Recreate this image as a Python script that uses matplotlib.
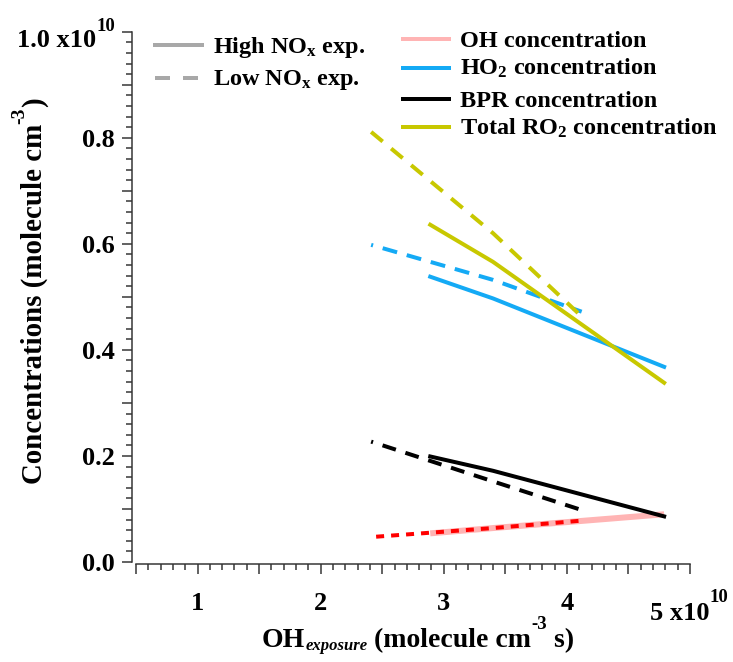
import numpy as np
import matplotlib
matplotlib.use('Agg')
import matplotlib.pyplot as plt
from matplotlib.lines import Line2D
from matplotlib.ticker import FixedLocator, FixedFormatter, MultipleLocator

plt.rcParams['font.family'] = 'Liberation Serif'
plt.rcParams['font.weight'] = 'bold'
plt.rcParams['mathtext.fontset'] = 'custom'
plt.rcParams['mathtext.rm'] = 'Liberation Serif:bold'
plt.rcParams['mathtext.it'] = 'Liberation Serif:italic:bold'
plt.rcParams['mathtext.bf'] = 'Liberation Serif:bold'
plt.rcParams['mathtext.default'] = 'regular'
plt.rcParams['lines.scale_dashes'] = False

# OH exposure (x1e10 molecule cm-3 s)
high_x = [2.89, 3.40, 4.79]
low_x = [2.41, 3.40, 4.12]

# concentrations (x1e10 molecule cm-3)
oh_high = [0.054, 0.064, 0.090]
ho2_high = [0.538, 0.497, 0.368]
bpr_high = [0.199, 0.172, 0.086]
ro2_high = [0.636, 0.566, 0.338]

oh_low = [0.047, 0.064, 0.078]
ho2_low = [0.598, 0.532, 0.472]
bpr_low = [0.227, 0.152, 0.098]
ro2_low = [0.811, 0.620, 0.463]

c_oh = '#ffb4b4'
c_oh_low = '#ff0000'
c_ho2 = '#14aaf5'
c_bpr = '#000000'
c_ro2 = '#c8c800'
c_grey = '#a8a8a8'

W, H = 733, 662
fig = plt.figure(figsize=(W / 100, H / 100), dpi=100)
ax = fig.add_axes([136 / W, 1 - 562 / H, (690 - 136) / W, (562 - 31.7) / H])
renderer = fig.canvas.get_renderer()

px = 0.72  # points per pixel
ax.plot(high_x, oh_high, color=c_oh, lw=6 * px, solid_capstyle='butt')
ax.plot(low_x, oh_low, color=c_oh_low, lw=4 * px, ls=(10 * px, (8 * px, 7 * px)))
ax.plot(high_x, bpr_high, color=c_bpr, lw=4 * px)
ax.plot(low_x, bpr_low, color=c_bpr, lw=4 * px, ls=(12 * px, (14 * px, 10 * px)))
ax.plot(high_x, ho2_high, color=c_ho2, lw=4 * px)
ax.plot(low_x, ho2_low, color=c_ho2, lw=4 * px, ls=(13 * px, (15 * px, 10 * px)))
ax.plot(high_x, ro2_high, color=c_ro2, lw=4 * px)
ax.plot(low_x, ro2_low, color=c_ro2, lw=4 * px, dashes=(15 * px, 11 * px))

ax.set_xlim(0.5, 5.0)
ax.set_ylim(0, 1.0)

for s in ['top', 'right']:
    ax.spines[s].set_visible(False)
ax.spines['left'].set_position(('outward', 4.3 * px))
ax.spines['bottom'].set_position(('outward', 2 * px))
for s in ['left', 'bottom']:
    ax.spines[s].set_linewidth(1.5 * px)
    ax.spines[s].set_color('#333333')

xt = np.arange(0.5, 5.01, 0.5)
ax.xaxis.set_major_locator(FixedLocator(xt))
ax.xaxis.set_major_formatter(FixedFormatter(['', '1', '', '2', '', '3', '', '4', '', '']))
ax.xaxis.set_minor_locator(MultipleLocator(0.1))
yt = np.arange(0, 1.01, 0.1)
ax.yaxis.set_major_locator(FixedLocator(yt))
ax.yaxis.set_major_formatter(FixedFormatter(['0.0', '', '0.2', '', '0.4', '', '0.6', '', '0.8', '', '']))
ax.yaxis.set_minor_locator(MultipleLocator(0.02))
ax.tick_params(which='major', direction='out', length=10 * px, width=1.5 * px, color='#333333', labelsize=19)
ax.tick_params(which='minor', direction='out', length=6 * px, width=1.5 * px, color='#333333')
ax.tick_params(axis='x', which='major', pad=13)
ax.tick_params(axis='y', which='major', pad=5)


def rich(x0, base, parts, ha='left', vertical=False):
    # parts: (text, size, rise_px, style); x0/base in pixels from top-left
    texts = []
    widths = []
    for s, size, rise, style in parts:
        t = fig.text(0, 0, s, fontsize=size, style=style, va='baseline', ha='left',
                     rotation=90 if vertical else 0, rotation_mode='anchor')
        bb = t.get_window_extent(renderer)
        widths.append(bb.height if vertical else bb.width)
        texts.append(t)
    total = sum(widths)
    start = {'left': 0, 'center': -total / 2, 'right': -total}[ha]
    off = start
    for t, w, (s, size, rise, style) in zip(texts, widths, parts):
        if vertical:
            t.set_position(((base - rise) / W, 1 - (x0 - off) / H))
        else:
            t.set_position(((x0 + off) / W, 1 - (base - rise) / H))
        off += w


rich(115, 46.7, [('1.0 x10', 19, 0, 'normal'), ('10', 13.5, 16, 'normal')], ha='right')
rich(650, 620, [('5 x10', 19, 0, 'normal'), ('10', 13.5, 18, 'normal')])
rich(418, 646.7, [('OH', 20, 0, 'normal'), ('exposure', 12, -3.5, 'italic'),
                  (' (molecule cm', 20, 0, 'normal'), ('-3', 13.5, 18, 'normal'),
                  (' s)', 20, 0, 'normal')], ha='center')
rich(484, 42, [('Concentrations (molecule cm', 20.8, 0, 'normal'), ('-3', 14, 17.5, 'normal'),
               (')', 20.8, 0, 'normal')], vertical=True)

# legend: NOx line styles
fig.add_artist(Line2D([155 / W, 202 / W], [1 - 45 / H, 1 - 45 / H], color=c_grey, lw=4 * px))
fig.add_artist(Line2D([155 / W, 202 / W], [1 - 78 / H, 1 - 78 / H], color=c_grey, lw=4 * px,
                      dashes=(15 * px, 13 * px)))
fig.text(213 / W, 1 - 53.3 / H, 'High NO$_{x}$ exp.', fontsize=17.5, va='baseline')
fig.text(213 / W, 1 - 85 / H, 'Low NO$_{x}$ exp.', fontsize=17.5, va='baseline')

# legend: species colours
rows = [(39, 47.3, c_oh, 'OH concentration'),
        (67.7, 75, c_ho2, 'HO$_{2}$ concentration'),
        (99.3, 107.3, c_bpr, 'BPR concentration'),
        (127.3, 135, c_ro2, 'Total RO$_{2}$ concentration')]
for ly, ty, c, lab in rows:
    fig.add_artist(Line2D([403 / W, 449 / W], [1 - ly / H, 1 - ly / H], color=c, lw=4 * px))
    fig.text(459.5 / W, 1 - ty / H, lab, fontsize=17.5, va='baseline')

fig.savefig('out.png', dpi=100)
